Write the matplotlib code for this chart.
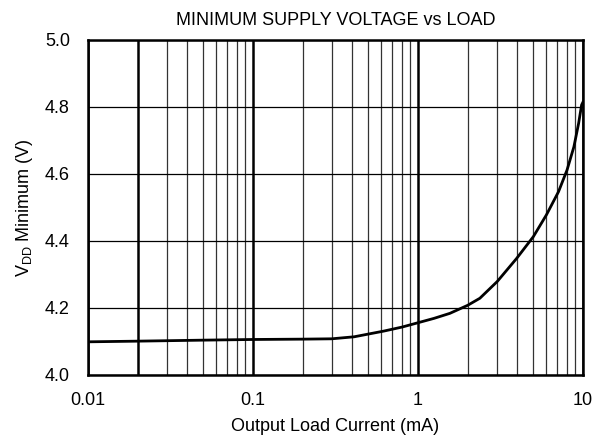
import numpy as np
import matplotlib
matplotlib.use('Agg')
import matplotlib.pyplot as plt

plt.rcParams['font.family'] = ['Liberation Sans', 'DejaVu Sans']

# curve
load_ma = [0.01, 0.02, 0.05, 0.1, 0.2, 0.3, 0.41, 0.62, 0.8, 1.0, 1.25, 1.56, 2.0, 2.37,
           3.02, 3.96, 5.0, 6.0, 7.1, 8.0, 8.8, 9.4, 9.8, 10.0]
vdd_min = [4.099, 4.101, 4.104, 4.106, 4.107, 4.108, 4.114, 4.131, 4.143, 4.156, 4.169,
           4.184, 4.208, 4.229, 4.279, 4.348, 4.413, 4.478, 4.547, 4.612, 4.681, 4.751,
           4.806, 4.815]

x_major = [0.01, 0.02, 0.1, 1, 10]
x_labels = ['0.01', '', '0.1', '1', '10']
x_minor = [0.03, 0.04, 0.05, 0.06, 0.07, 0.08, 0.09,
           0.2, 0.3, 0.4, 0.5, 0.6, 0.7, 0.8, 0.9,
           2, 3, 4, 5, 6, 7, 8, 9]
y_ticks = [4.0, 4.2, 4.4, 4.6, 4.8, 5.0]

fig = plt.figure(figsize=(5.98, 4.42), dpi=100)
ax = fig.add_axes([0.147, 0.1516, 0.828, 0.758])

ax.plot(load_ma, vdd_min, color='black', lw=2.0, zorder=5)

ax.set_xscale('log')
ax.set_xlim(0.01, 10)
ax.set_ylim(4.0, 5.0)
ax.set_xticks(x_major)
ax.set_xticklabels(x_labels)
ax.set_xticks(x_minor, minor=True)
ax.set_yticks(y_ticks)
ax.set_yticklabels([f'{v:.1f}' for v in y_ticks])

ax.grid(which='major', axis='x', color='black', lw=1.8)
ax.grid(which='minor', axis='x', color='#333333', lw=0.9)
ax.grid(which='major', axis='y', color='black', lw=0.9)
ax.tick_params(which='both', length=0, labelsize=13)
ax.tick_params(axis='x', pad=12)
ax.tick_params(axis='y', pad=13)

for s in ax.spines.values():
    s.set_linewidth(1.8)

ax.set_title('MINIMUM SUPPLY VOLTAGE vs LOAD', fontsize=13, pad=11)
ax.set_xlabel('Output Load Current (mA)', fontsize=13, labelpad=7)
ax.set_ylabel(r'V$_{\mathregular{DD}}$ Minimum (V)', fontsize=13, labelpad=7)

fig.savefig('out.png', dpi=100)
